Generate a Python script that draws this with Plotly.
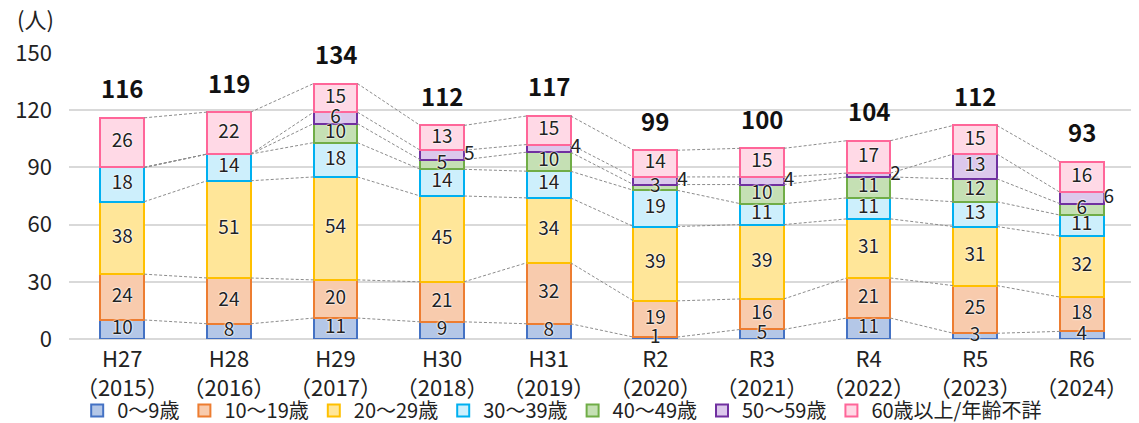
import plotly.graph_objects as go

# ---- data ----
years = ["H27", "H28", "H29", "H30", "H31", "R2", "R3", "R4", "R5", "R6"]
western = ["2015", "2016", "2017", "2018", "2019", "2020", "2021", "2022", "2023", "2024"]
series_names = ["0～9歳", "10～19歳", "20～29歳", "30～39歳", "40～49歳", "50～59歳", "60歳以上/年齢不詳"]
age_0_9 = [10, 8, 11, 9, 8, 1, 5, 11, 3, 4]
age_10_19 = [24, 24, 20, 21, 32, 19, 16, 21, 25, 18]
age_20_29 = [38, 51, 54, 45, 34, 39, 39, 31, 31, 32]
age_30_39 = [18, 14, 18, 14, 14, 19, 11, 11, 13, 11]
age_40_49 = [0, 0, 10, 5, 10, 3, 10, 11, 12, 6]
age_50_59 = [0, 0, 6, 5, 4, 4, 4, 2, 13, 6]
age_60_plus = [26, 22, 15, 13, 15, 14, 15, 17, 15, 16]
y_ticks = [0, 30, 60, 90, 120, 150]

series_values = [age_0_9, age_10_19, age_20_29, age_30_39, age_40_49, age_50_59, age_60_plus]
line_colors = ["#4472C4", "#ED7D31", "#FFC000", "#00B0F0", "#70AD47", "#7030A0", "#FF6699"]
fill_colors = ["#B4C7E7", "#F8CBAD", "#FFE699", "#CDEFFC", "#C5E0B4", "#DCC8EC", "#FFD9E6"]
# labels drawn to the right of the bar (series index 5 = 50～59歳)
outside_labels = {(3, 5), (4, 5), (5, 5), (6, 5), (7, 5), (9, 5)}

FONT = "Noto Sans CJK JP, Noto Sans, sans-serif"
BAR_W = 0.41
n = len(years)
xs = list(range(n))

fig = go.Figure()

# bars
for name, vals, lc, fc in zip(series_names, series_values, line_colors, fill_colors):
    fig.add_trace(go.Bar(
        x=xs, y=vals, name=name, width=BAR_W,
        marker=dict(color=fc, line=dict(color=lc, width=2)),
        hoverinfo="skip",
    ))

# cumulative tops
cum = []
running = [0] * n
for vals in series_values:
    bottoms = running[:]
    running = [r + v for r, v in zip(running, vals)]
    cum.append((bottoms, running[:]))
totals = running

# series connector lines
lx, ly = [], []
for bottoms, tops in cum:
    for i in range(n - 1):
        lx += [i + BAR_W / 2, i + 1 - BAR_W / 2, None]
        ly += [tops[i], tops[i + 1], None]
fig.add_trace(go.Scatter(
    x=lx, y=ly, mode="lines", showlegend=False, hoverinfo="skip",
    line=dict(color="#8c8c8c", width=1, dash="3px,2px"),
))

# segment labels
in_x, in_y, in_t = [], [], []
out_x, out_y, out_t = [], [], []
for s, (vals, (bottoms, tops)) in enumerate(zip(series_values, cum)):
    for i in range(n):
        if vals[i] == 0:
            continue
        mid = (bottoms[i] + tops[i]) / 2
        if (i, s) in outside_labels:
            out_x.append(i + BAR_W / 2); out_y.append(mid); out_t.append(str(vals[i]))
        else:
            in_x.append(i); in_y.append(mid); in_t.append(str(vals[i]))

shadow = "0px 0px 2px white, 0px 0px 2px white, 0px 0px 1px white"
fig.add_trace(go.Scatter(
    x=in_x, y=in_y, text=in_t, mode="text", textposition="middle center",
    textfont=dict(family=FONT, size=19, color="#222222", shadow=shadow),
    showlegend=False, hoverinfo="skip", cliponaxis=False,
))
fig.add_trace(go.Scatter(
    x=out_x, y=out_y, text=out_t, mode="text", textposition="middle right",
    textfont=dict(family=FONT, size=19, color="#222222", shadow=shadow),
    showlegend=False, hoverinfo="skip", cliponaxis=False,
))

# totals above each bar
annotations = [dict(
    x=i, y=t, text=str(t), xref="x", yref="y", yshift=30,
    xanchor="center", yanchor="middle", showarrow=False,
    font=dict(family=FONT, size=24, color="#111111", weight="bold"),
) for i, t in zip(xs, totals)]
annotations.append(dict(
    text="(人)", xref="paper", yref="paper", x=-0.051, y=1.0, yshift=35,
    xanchor="left", yanchor="middle", showarrow=False,
    font=dict(family=FONT, size=22, color="#222222"),
))

# the page body adds an 8px margin, so the figure is sized/offset to compensate
fig.update_layout(
    barmode="stack",
    width=1131, height=415,
    margin=dict(l=61, r=4, t=45, b=84, autoexpand=False),
    plot_bgcolor="white", paper_bgcolor="white",
    font=dict(family=FONT, size=22, color="#222222"),
    showlegend=True,
    legend=dict(
        orientation="h", x=0.49, xanchor="center", xref="container",
        y=0.03, yanchor="middle", yref="container",
        font=dict(family=FONT, size=20, color="#222222"),
        itemwidth=30, traceorder="normal", tracegroupgap=0,
        bgcolor="rgba(0,0,0,0)",
    ),
    xaxis=dict(
        range=[-0.5, n - 0.5], tickmode="array", tickvals=xs,
        ticktext=[f"{y}<br>（{w}）" for y, w in zip(years, western)],
        showgrid=False, zeroline=False, showline=False, ticks="", automargin=False,
        ticklabelstandoff=5,
        tickfont=dict(family=FONT, size=22, color="#222222"),
    ),
    yaxis=dict(
        range=[0, 150], tickmode="array", tickvals=y_ticks,
        showgrid=True, gridcolor="#d9d9d9", gridwidth=1.5,
        zeroline=True, zerolinecolor="#d9d9d9", zerolinewidth=1.5,
        ticks="", ticklabelstandoff=16, automargin=False,
        tickfont=dict(family=FONT, size=22, color="#222222"),
    ),
    annotations=annotations,
)

fig.write_html("out.html")
